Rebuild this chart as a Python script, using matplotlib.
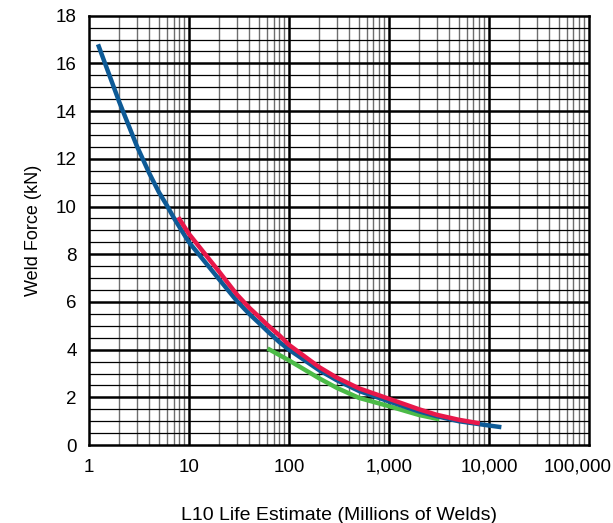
import numpy as np
import matplotlib
matplotlib.use("Agg")
import matplotlib.pyplot as plt
from matplotlib.ticker import FixedLocator, NullFormatter
from matplotlib.transforms import ScaledTranslation

plt.rcParams['font.family'] = ['Liberation Sans', 'DejaVu Sans']

# Blue curve (life in millions of welds, force in kN)
blue_life = [1.23, 2, 3, 4, 5, 6, 7, 8, 10, 20, 30, 40, 50, 60, 80, 100,
             200, 300, 500, 1000, 2000, 3000, 5000, 10000, 13300]
blue_force = [16.8, 14.4, 12.55, 11.4, 10.6, 10.05, 9.55, 9.15, 8.5, 6.95, 6.05,
              5.5, 5.12, 4.8, 4.32, 4.0, 3.14, 2.72, 2.27, 1.83, 1.41, 1.21,
              1.0, 0.82, 0.75]

# Red curve
red_life = [7.8, 10, 20, 30, 40, 50, 60, 80, 100, 200, 300, 500, 1000,
            2000, 3000, 5000, 8100]
red_force = [9.55, 8.85, 7.27, 6.32, 5.76, 5.38, 5.06, 4.6, 4.2, 3.27, 2.83,
             2.38, 1.94, 1.5, 1.27, 1.06, 0.91]

# Green curve
green_life = [61, 100, 200, 300, 500, 1000, 2000, 3200]
green_force = [4.05, 3.55, 2.8, 2.4, 1.98, 1.63, 1.26, 1.08]

x_ticks = [1, 10, 100, 1000, 10000, 100000]
x_tick_labels = ['1', '10', '100', '1,000', '10,000', '100,000']
y_ticks = [0, 2, 4, 6, 8, 10, 12, 14, 16, 18]

fig = plt.figure(figsize=(6.13, 5.23), dpi=100)
ax = fig.add_axes([0.1452, 0.149, 0.8156, 0.821])

ax.set_xscale('log')
ax.set_xlim(1, 100000)
ax.set_ylim(0, 18)

# grid
minor_x = [m * 10 ** d for d in range(5) for m in range(2, 10)]
for xv in minor_x:
    ax.axvline(xv, color='#6e6e6e', lw=1.0, zorder=1)
for xv in x_ticks[1:-1]:
    ax.axvline(xv, color='black', lw=1.8, zorder=1)
for yv in np.arange(0.5, 18, 0.5):
    if yv % 2 == 0:
        ax.axhline(yv, color='black', lw=1.8, zorder=1)
    else:
        ax.axhline(yv, color='black', lw=0.9, zorder=1)

ax.plot(green_life, green_force, color='#4cbb47', lw=3.2, zorder=3,
        solid_capstyle='butt')
ax.plot(red_life, red_force, color='#e8174a', lw=3.2, zorder=4,
        solid_capstyle='butt')
ax.plot(blue_life, blue_force, color='#0d5a96', lw=3.2, zorder=3,
        solid_capstyle='butt')

ax.xaxis.set_major_locator(FixedLocator(x_ticks))
ax.set_xticklabels(x_tick_labels)
ax.xaxis.set_minor_formatter(NullFormatter())
ax.set_yticks(y_ticks)
ax.tick_params(axis='both', which='both', length=0, labelsize=13.5)
ax.tick_params(axis='x', pad=10)
ax.tick_params(axis='y', pad=9)

# keep the last x label inside the figure
last = ax.get_xticklabels()[-1]
last.set_transform(last.get_transform() + ScaledTranslation(-0.11, 0, fig.dpi_scale_trans))

for s in ax.spines.values():
    s.set_linewidth(1.8)
    s.set_color('black')

ax.set_xlabel('L10 Life Estimate (Millions of Welds)', fontsize=14, labelpad=22)
ax.set_ylabel('Weld Force (kN)', fontsize=13, labelpad=10)

fig.savefig('out.png', dpi=100)
